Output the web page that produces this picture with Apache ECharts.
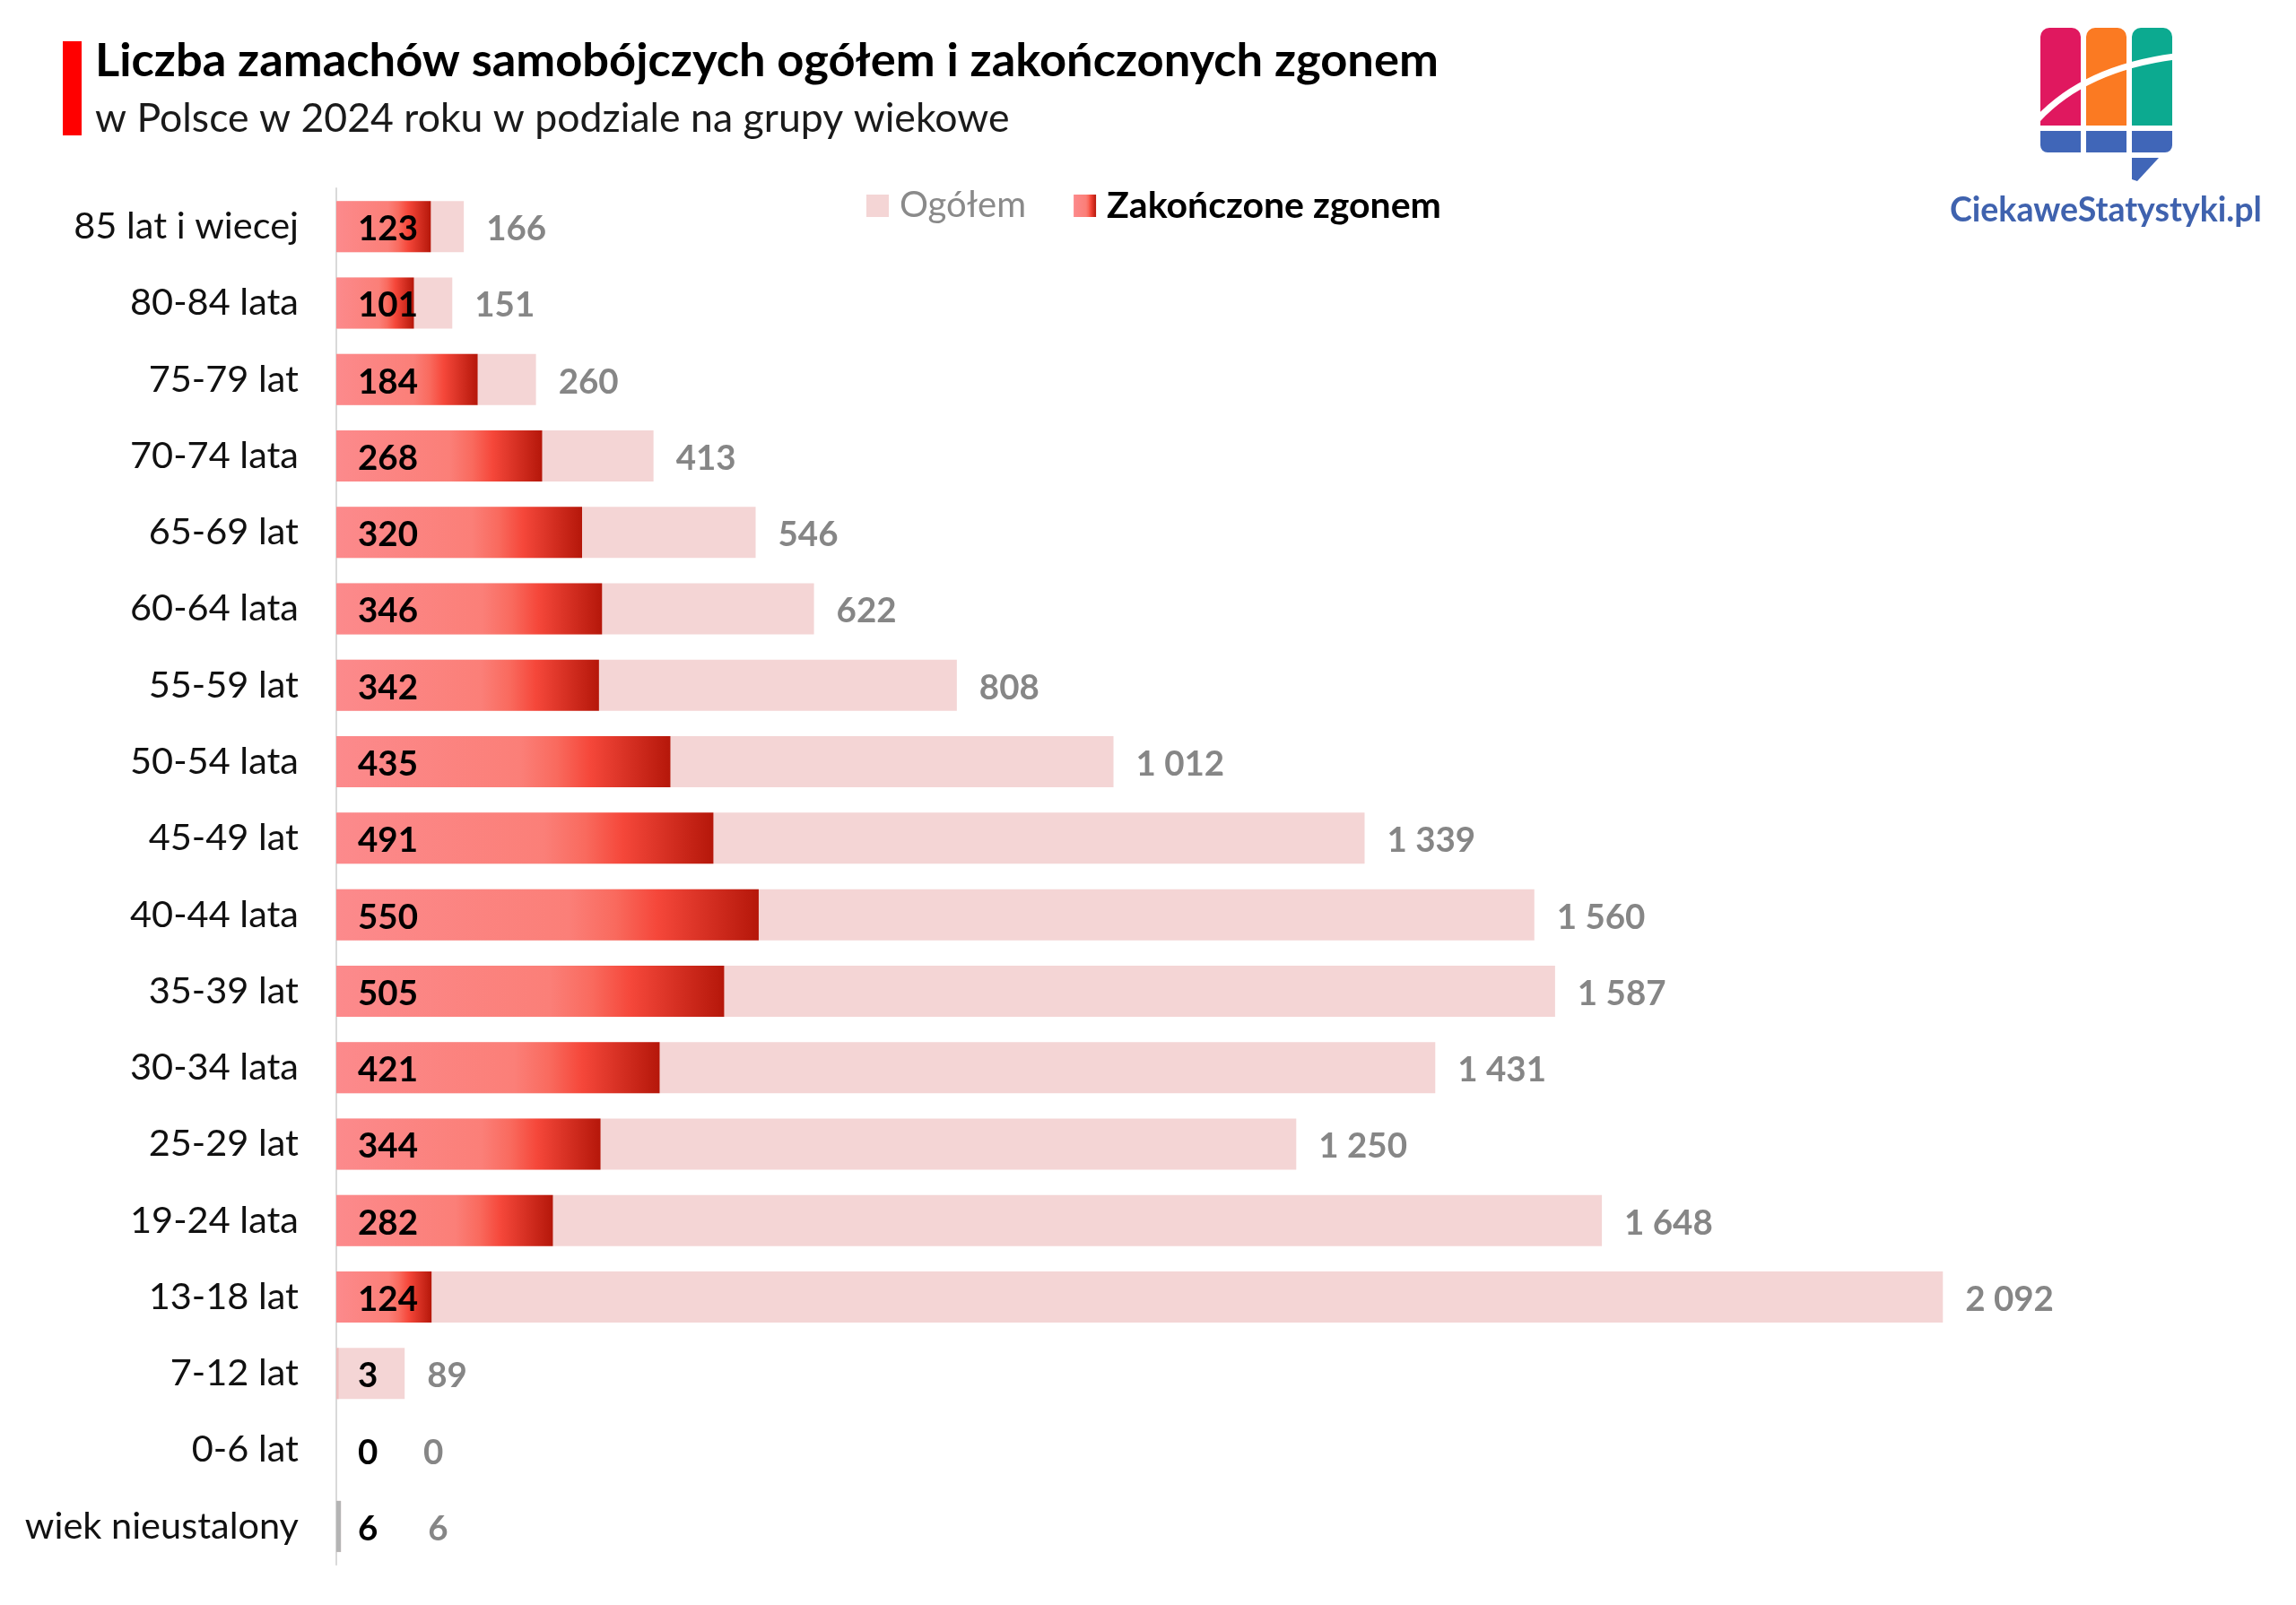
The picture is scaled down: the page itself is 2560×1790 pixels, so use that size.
<!DOCTYPE html>
<html>
<head>
<meta charset="utf-8">
<style>
  html, body { margin: 0; padding: 0; background: #fff; }
  #chart { width: 2560px; height: 1790px; }
</style>
<script src="https://cdn.jsdelivr.net/npm/echarts@6/dist/echarts.min.js"></script>
</head>
<body>
<div id="chart"></div>
<script>
const ageGroups = ["85 lat i wiecej", "80-84 lata", "75-79 lat", "70-74 lata", "65-69 lat", "60-64 lata",
  "55-59 lat", "50-54 lata", "45-49 lat", "40-44 lata", "35-39 lat", "30-34 lata", "25-29 lat",
  "19-24 lata", "13-18 lat", "7-12 lat", "0-6 lat", "wiek nieustalony"];
const totalAttempts = [166, 151, 260, 413, 546, 622, 808, 1012, 1339, 1560, 1587, 1431, 1250, 1648, 2092, 89, 0, 6];
const fatalAttempts = [123, 101, 184, 268, 320, 346, 342, 435, 491, 550, 505, 421, 344, 282, 124, 3, 0, 6];

const FONT = "Lato";
const fmt = (v) => String(v).replace(/\B(?=(\d{3})+$)/g, " ");

const fatalGradient = new echarts.graphic.LinearGradient(0, 0, 1, 0, [
  { offset: 0, color: "#fc8a8c" },
  { offset: 0.55, color: "#fb7f78" },
  { offset: 0.66, color: "#f96a5e" },
  { offset: 0.76, color: "#f5473a" },
  { offset: 1, color: "#b5170a" },
]);

// the thinnest slivers don't show the gradient in the original
const sliverColors = { "7-12 lat": "#eebcbc", "wiek nieustalony": "#b4b4b4" };

const chart = echarts.init(document.getElementById("chart"), null, { renderer: "canvas" });

chart.setOption({
  animation: false,
  backgroundColor: "#fff",
  title: [
    { text: "Liczba zamachów samobójczych ogółem i zakończonych zgonem", left: 101, top: 37,
      textStyle: { fontFamily: FONT, fontSize: 52.45, fontWeight: "bold", color: "#000" } },
    { text: "w Polsce w 2024 roku w podziale na grupy wiekowe", left: 101, top: 105,
      textStyle: { fontFamily: FONT, fontSize: 44.6, fontWeight: "normal", color: "#1a1a1a" } },
  ],
  legend: {
    left: 961, top: 204, itemWidth: 25, itemHeight: 25, itemGap: 53, icon: "rect",
    selectedMode: false,
    data: [
      { name: "Ogółem", textStyle: { color: "#8a8a8a", fontWeight: "normal", fontSize: 40 } },
      { name: "Zakończone zgonem", textStyle: { color: "#000", fontWeight: "bold", fontSize: 41 } },
    ],
    textStyle: { fontFamily: FONT, padding: [0, 0, 0, 7] },
  },
  grid: { left: 375, right: 130, top: 210, height: 1535 },
  xAxis: { type: "value", min: 0, max: 2400, show: false },
  yAxis: {
    type: "category",
    inverse: true,
    data: ageGroups,
    axisLine: { show: true, lineStyle: { color: "#d9d9d9", width: 2 } },
    axisTick: { show: false },
    axisLabel: { fontFamily: FONT, fontSize: 41.5, color: "#111", margin: 42 },
  },
  series: [
    {
      name: "Ogółem",
      type: "bar",
      barWidth: 57,
      barGap: "-100%",
      itemStyle: { color: "#f4d5d5" },
      data: totalAttempts.map((v) => ({
        value: v,
        label: { offset: [v < 10 ? 72 : 0, 3] },
      })),
      label: {
        show: true, position: "right", distance: 25,
        fontFamily: FONT, fontSize: 38.5, fontWeight: "bold", color: "#868686",
        formatter: (p) => fmt(p.value),
      },
    },
    {
      name: "Zakończone zgonem",
      type: "bar",
      barWidth: 57,
      barGap: "-100%",
      itemStyle: { color: fatalGradient },
      data: fatalAttempts.map((v, i) => ({
        value: v,
        itemStyle: sliverColors[ageGroups[i]] ? { color: sliverColors[ageGroups[i]] } : undefined,
      })),
      label: {
        show: true, position: "insideLeft", distance: 24, offset: [0, 3],
        fontFamily: FONT, fontSize: 38.5, fontWeight: "bold", color: "#000",
        formatter: (p) => fmt(p.value),
      },
    },
  ],
  graphic: [
    // red accent next to the title
    { type: "rect", shape: { x: 70, y: 46, width: 21, height: 105 }, style: { fill: "#ff0000" } },
    // logo
    { type: "rect", shape: { x: 2275, y: 31, width: 45, height: 109, r: [10, 10, 0, 0] }, style: { fill: "#e0185f" } },
    { type: "rect", shape: { x: 2326, y: 31, width: 45, height: 109, r: [10, 10, 0, 0] }, style: { fill: "#fb7a22" } },
    { type: "rect", shape: { x: 2377, y: 31, width: 45, height: 109, r: [10, 10, 0, 0] }, style: { fill: "#0caa90" } },
    { type: "bezierCurve", shape: { x1: 2272, y1: 133, cpx1: 2325, cpy1: 76, x2: 2425, y2: 63 },
      style: { fill: null, stroke: "#fff", lineWidth: 7 } },
    { type: "rect", shape: { x: 2275, y: 146, width: 45, height: 24, r: [0, 0, 0, 8] }, style: { fill: "#4066b8" } },
    { type: "rect", shape: { x: 2326, y: 146, width: 45, height: 24 }, style: { fill: "#4066b8" } },
    { type: "rect", shape: { x: 2377, y: 146, width: 45, height: 24, r: [0, 0, 8, 0] }, style: { fill: "#4066b8" } },
    { type: "polygon", shape: { points: [[2377, 176], [2407, 176], [2383, 202], [2377, 200]] }, style: { fill: "#4066b8" } },
    { type: "text", x: 2174, y: 216,
      style: { text: "CiekaweStatystyki.pl", fontFamily: FONT, fontSize: 37.5, fontWeight: "bold", fill: "#3f62ae" } },
  ],
});
</script>
</body>
</html>
